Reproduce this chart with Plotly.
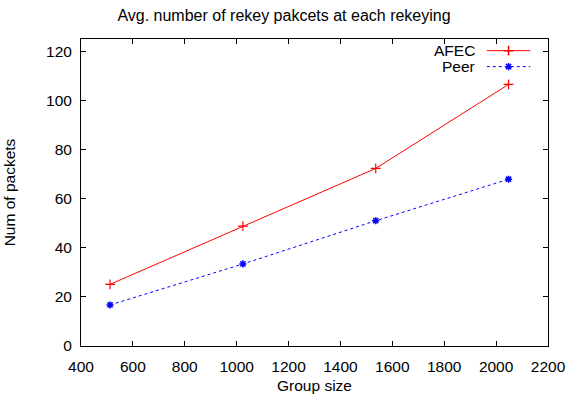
import plotly.graph_objects as go

group_size = [512, 1024, 1536, 2048]
afec = [25.1, 48.8, 72.3, 106.5]
peer = [16.7, 33.4, 51.0, 67.9]
x_ticks = [400, 600, 800, 1000, 1200, 1400, 1600, 1800, 2000, 2200]
y_ticks = [0, 20, 40, 60, 80, 100, 120]

FONT = "Liberation Sans, Arial, sans-serif"
FS = 15.5

fig = go.Figure()
fig.add_trace(go.Scatter(x=group_size, y=afec, mode="lines+markers", name="AFEC",
                         line=dict(color="#ff0000", width=1),
                         marker=dict(symbol="cross-thin", size=7, line=dict(color="#ff0000", width=1.2))))
fig.add_trace(go.Scatter(x=group_size, y=peer, mode="lines+markers", name="Peer",
                         line=dict(color="#0000ff", width=1, dash="dot"),
                         marker=dict(symbol="asterisk", size=6, line=dict(color="#0000ff", width=1.6))))

# manual gnuplot-style legend (text left of key sample)
leg_rows = [("AFEC", "#ff0000", "solid", "cross-thin", 0.962), ("Peer", "#0000ff", "dot", "asterisk", 0.910)]
for name, col, dash, sym, yy in leg_rows:
    fig.add_shape(type="line", xref="x domain", yref="y domain", x0=0.869, x1=0.962, y0=yy, y1=yy,
                  line=dict(color=col, width=1, dash=dash))
    fig.add_trace(go.Scatter(x=[0.9155], y=[yy], xaxis="x2", yaxis="y2", mode="markers", showlegend=False,
                             marker=dict(symbol=sym, size=6 if sym == "asterisk" else 7,
                                         line=dict(color=col, width=1.5)), hoverinfo="skip"))
    fig.add_annotation(xref="x domain", yref="y domain", x=0.849, y=yy, text=name, showarrow=False,
                       xanchor="right", yanchor="middle", font=dict(size=FS, color="black", family=FONT))

axis_common = dict(showgrid=False, zeroline=False, showline=True, linecolor="black", linewidth=1,
                   mirror="ticks", ticks="inside", ticklen=5, tickcolor="black", automargin=False,
                   tickfont=dict(size=FS, color="black", family=FONT))
fig.update_layout(
    width=568, height=399,
    margin=dict(l=81, r=20, t=39, b=53),
    paper_bgcolor="white", plot_bgcolor="white",
    showlegend=False,
    title=dict(text="Avg. number of rekey pakcets at each rekeying", x=0.5, xanchor="center",
               y=0.962, yanchor="middle", font=dict(size=16, color="black", family=FONT)),
    xaxis=dict(range=[400, 2200], tickvals=x_ticks, ticklabelstandoff=6,
               title=dict(text="Group size", font=dict(size=FS, color="black", family=FONT), standoff=6),
               **axis_common),
    yaxis=dict(range=[0, 125], tickvals=y_ticks, ticklabelstandoff=5,
               title=dict(text="Num of packets", font=dict(size=FS, color="black", family=FONT), standoff=26),
               **axis_common),
    xaxis2=dict(overlaying="x", range=[0, 1], visible=False),
    yaxis2=dict(overlaying="y", range=[0, 1], visible=False),
)
fig.write_html("out.html")
